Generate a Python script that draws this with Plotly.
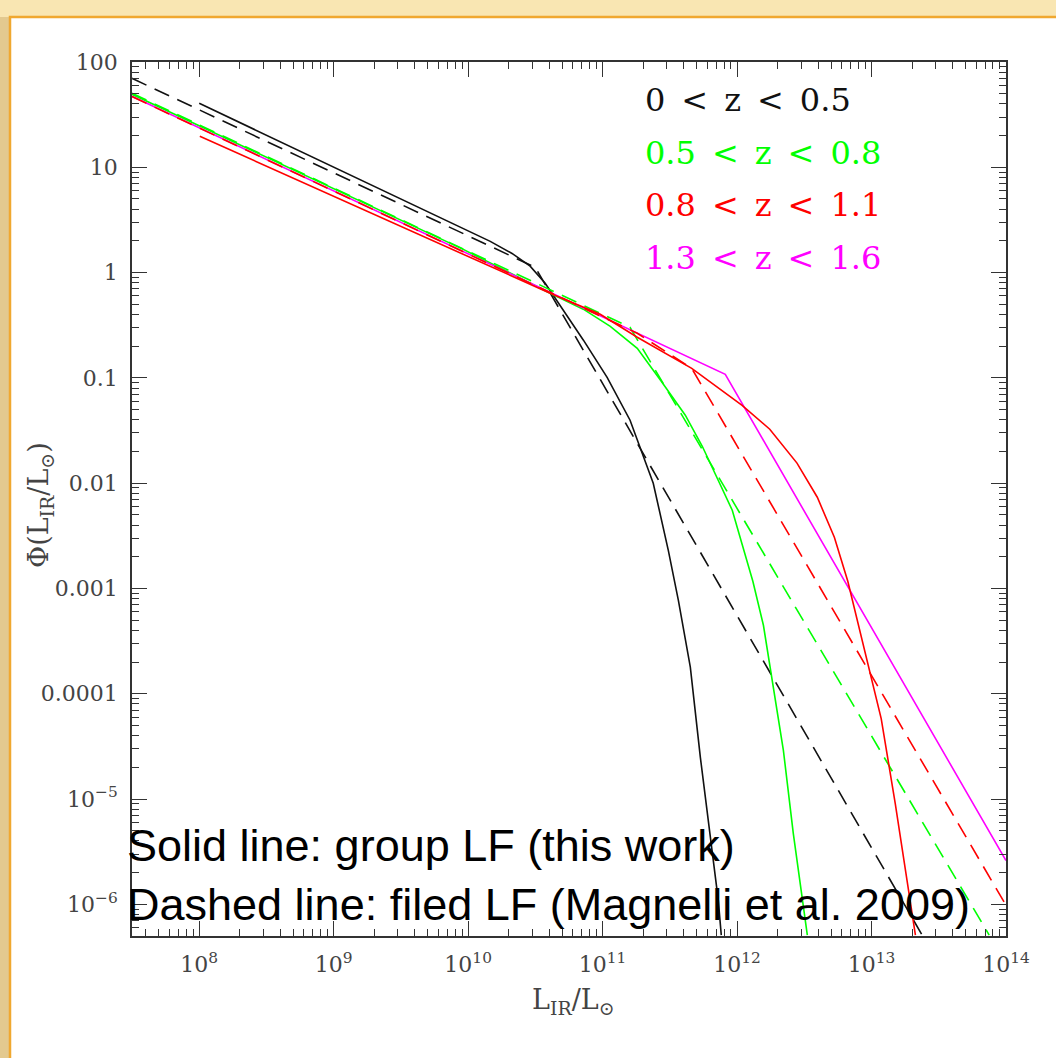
import plotly.graph_objects as go

# ---------------- data ----------------
# 0 < z < 0.5  (black)
L_k_solid = [1.0e8, 9.2e9, 1.46e10, 2.12e10, 2.89e10, 3.74e10, 4.84e10, 7.2e10, 1.08e11, 1.6e11,
             2.38e11, 3.08e11, 3.66e11, 4.49e11, 5.33e11, 6.32e11, 7.25e11, 7.63e11]
P_k_solid = [40.5, 2.63, 1.98, 1.52, 1.15, 0.791, 0.489, 0.228, 0.101, 0.0396,
             0.00998, 0.0023, 7.7e-4, 1.79e-4, 2.5e-5, 4.7e-6, 1.09e-6, 5.1e-7]
L_k_dash = [3.16e7, 3.16e10, 2.4e13]
P_k_dash = [70.0, 1.12, 5.0e-7]

# 0.5 < z < 0.8  (green)
L_g_solid = [3.16e7, 9.2e9, 4.07e10, 7.18e10, 1.14e11, 1.81e11, 2.73e11, 4.12e11, 5.51e11,
             7.38e11, 9.21e11, 1.09e12, 1.31e12, 1.57e12, 1.75e12, 2.21e12, 2.62e12, 3.11e12, 3.33e12]
P_g_solid = [49.3, 1.66, 0.637, 0.449, 0.309, 0.191, 0.0929, 0.0442, 0.0224,
             0.00998, 0.00553, 0.00263, 0.00117, 4.47e-4, 1.82e-4, 2.9e-5, 4.7e-6, 9.4e-7, 5.1e-7]
L_g_dash = [3.16e7, 1.6e11, 7.5e13]
P_g_dash = [50.5, 0.302, 5.1e-7]

# 0.8 < z < 1.1  (red)
L_r_solid = [1.01e8, 4.07e10, 9.6e10, 1.81e11, 4.6e11, 1.09e12, 1.75e12, 2.79e12, 3.95e12,
             5.29e12, 6.66e12, 7.93e12, 9.44e12, 1.18e13, 1.50e13, 1.79e13, 2.12e13]
P_r_solid = [19.7, 0.637, 0.402, 0.243, 0.123, 0.0549, 0.0325, 0.0155, 0.00735,
             0.00306, 0.00117, 4.77e-4, 1.95e-4, 5.8e-5, 9.1e-6, 2.06e-6, 5.1e-7]
L_r_dash = [3.16e7, 1.81e11, 4.6e11, 1.0e14]
P_r_dash = [47.0, 0.265, 0.123, 9.8e-7]

# 1.3 < z < 1.6  (magenta)
L_m = [3.16e7, 8.17e11, 1.0e14]
P_m = [47.2, 0.108, 2.6e-6]

legend_labels = ["0 < z < 0.5", "0.5 < z < 0.8", "0.8 < z < 1.1", "1.3 < z < 1.6"]
colors = ["#111111", "#00ff00", "#ff0000", "#ff00ff"]

x_tickvals = [1e8, 1e9, 1e10, 1e11, 1e12, 1e13, 1e14]
x_ticktext = ["10<sup>8</sup>", "10<sup>9</sup>", "10<sup>10</sup>", "10<sup>11</sup>",
              "10<sup>12</sup>", "10<sup>13</sup>", "10<sup>14</sup>"]
y_tickvals = [100, 10, 1, 0.1, 0.01, 0.001, 0.0001, 1e-5, 1e-6]
y_ticktext = ["100", "10", "1", "0.1", "0.01", "0.001", "0.0001",
              "10<sup>\u22125</sup>", "10<sup>\u22126</sup>"]

x_minor = [m * 10.0 ** e for e in range(7, 14) for m in range(2, 10)]
y_minor = [m * 10.0 ** e for e in range(-7, 2) for m in range(2, 10)]

# ---------------- figure ----------------
W, H = 1056, 1058
ML, MR, MT, MB = 132, 50, 62, 122
PW, PH = W - ML - MR, H - MT - MB


def px(xp):
    return (xp - ML) / PW


def py(yp):
    return (H - MB - yp) / PH


DASH = "16px,9px"
fig = go.Figure()
series = [
    (L_k_dash, P_k_dash, colors[0], DASH),
    (L_k_solid, P_k_solid, colors[0], "solid"),
    (L_g_dash, P_g_dash, colors[1], DASH),
    (L_g_solid, P_g_solid, colors[1], "solid"),
    (L_m, P_m, colors[3], "solid"),
    (L_r_dash, P_r_dash, colors[2], DASH),
    (L_r_solid, P_r_solid, colors[2], "solid"),
]
for xs, ys, c, d in series:
    fig.add_trace(go.Scatter(x=xs, y=ys, mode="lines", showlegend=False,
                             line=dict(color=c, width=1.6, dash=d), hoverinfo="skip"))

axis_common = dict(
    type="log", showline=True, linecolor="#333", linewidth=1.6, mirror="allticks",
    ticks="inside", ticklen=15, tickwidth=1.2, tickcolor="#333", showgrid=False, zeroline=False,
    tickmode="array", tickfont=dict(family="DejaVu Serif", size=22, color="#444"),
)
fig.update_xaxes(**axis_common, range=[7.5, 14], tickvals=x_tickvals, ticktext=x_ticktext,
                 ticklabelstandoff=8,
                 minor=dict(ticks="inside", ticklen=7, tickwidth=1, tickcolor="#333",
                            tickmode="array", tickvals=x_minor, showgrid=False))
fig.update_yaxes(**axis_common, range=[-6.30103, 2], tickvals=y_tickvals, ticktext=y_ticktext,
                 ticklabelstandoff=8,
                 minor=dict(ticks="inside", ticklen=7, tickwidth=1, tickcolor="#333",
                            tickmode="array", tickvals=y_minor, showgrid=False))

annotations = []
for i, (lab, c) in enumerate(zip(legend_labels, colors)):
    annotations.append(dict(xref="paper", yref="paper", x=px(643), y=py(100 + 52.5 * i),
                            xanchor="left", yanchor="middle", showarrow=False,
                            text=lab.replace(" ", "\u2002"),
                            font=dict(family="DejaVu Serif", size=32, color=c)))
annotations.append(dict(xref="paper", yref="paper", x=px(125), y=py(845), xanchor="left",
                        yanchor="middle", showarrow=False, text="Solid line: group LF (this work)",
                        font=dict(family="Liberation Sans", size=45, color="#000")))
annotations.append(dict(xref="paper", yref="paper", x=px(125), y=py(904), xanchor="left",
                        yanchor="middle", showarrow=False,
                        text="Dashed line: filed LF (Magnelli et al. 2009)",
                        font=dict(family="Liberation Sans", size=45, color="#000")))
annotations.append(dict(xref="paper", yref="paper", x=px(573), y=py(1001), xanchor="center",
                        yanchor="middle", showarrow=False,
                        text="L<sub>IR</sub>/L<sub>\u2299</sub>",
                        font=dict(family="DejaVu Serif", size=27, color="#444")))
annotations.append(dict(xref="paper", yref="paper", x=px(40), y=py(505), xanchor="center",
                        yanchor="middle", showarrow=False, textangle=-90,
                        text="\u03a6(L<sub>IR</sub>/L<sub>\u2299</sub>)",
                        font=dict(family="DejaVu Serif", size=27, color="#444")))

shapes = [
    # light top strip of the slide frame
    dict(type="rect", xref="paper", yref="paper", x0=px(-5), x1=px(W + 5), y0=py(-5), y1=py(17),
         fillcolor="#f9e6b2", line=dict(width=0), layer="below"),
    # white slide panel with orange border
    dict(type="rect", xref="paper", yref="paper", x0=px(10), x1=px(W + 20), y0=py(17), y1=py(H + 20),
         fillcolor="white", line=dict(color="#f0a830", width=2.5), layer="below"),
]

fig.update_layout(
    width=W, height=H, margin=dict(l=ML, r=MR, t=MT, b=MB, autoexpand=False),
    paper_bgcolor="#e3c98f", plot_bgcolor="rgba(255,255,255,0)",
    annotations=annotations, shapes=shapes, showlegend=False,
)
fig.write_html("out.html")
